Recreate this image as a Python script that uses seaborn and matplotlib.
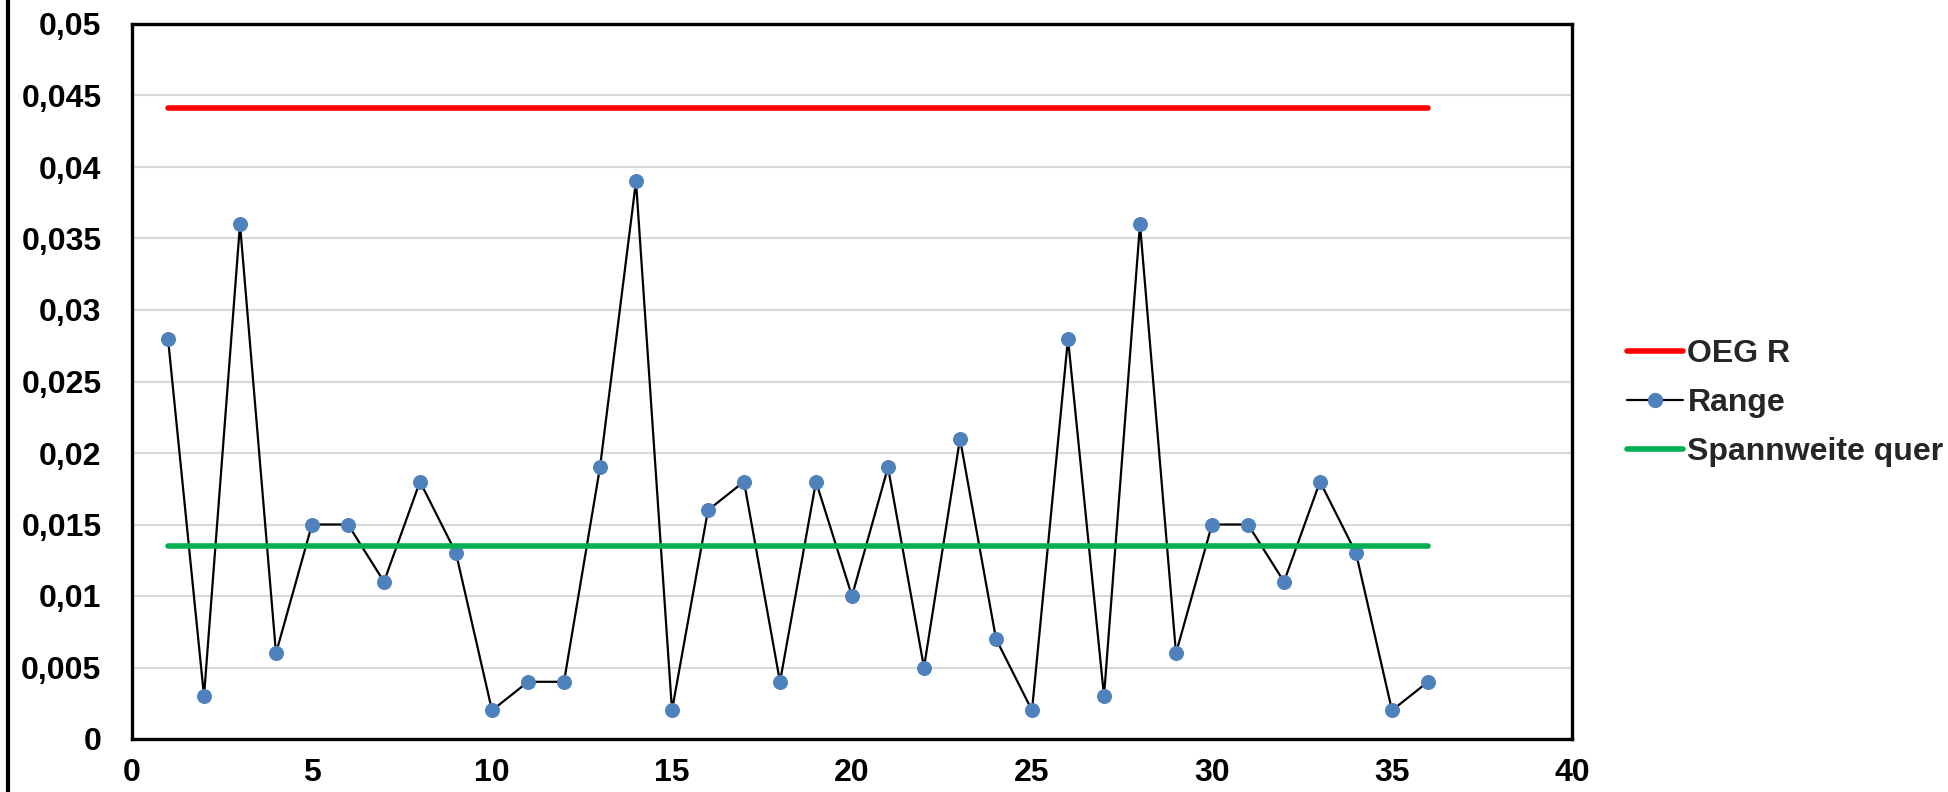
import matplotlib
matplotlib.use("Agg")
import matplotlib.pyplot as plt
import seaborn as sns
import pandas as pd
from matplotlib.ticker import FuncFormatter, MultipleLocator
from matplotlib.lines import Line2D

# ---- data ----
sample = list(range(1, 37))
range_values = [0.028, 0.003, 0.036, 0.006, 0.015, 0.015, 0.011, 0.018, 0.013, 0.002,
                0.004, 0.004, 0.019, 0.039, 0.002, 0.016, 0.018, 0.004, 0.018, 0.010,
                0.019, 0.005, 0.021, 0.007, 0.002, 0.028, 0.003, 0.036, 0.006, 0.015,
                0.015, 0.011, 0.018, 0.013, 0.002, 0.004]
oeg_r = 0.0441
spannweite_quer = 0.0135
labels = ["OEG R", "Range", "Spannweite quer"]

df = pd.DataFrame({"x": sample, "Range": range_values,
                   "OEG R": [oeg_r] * len(sample),
                   "Spannweite quer": [spannweite_quer] * len(sample)})

sns.set_theme(style="white")
plt.rcParams["font.family"] = ["Liberation Sans", "DejaVu Sans"]
plt.rcParams["font.weight"] = "bold"

FS = 23
fig = plt.figure(figsize=(19.49, 7.92), dpi=100)
ax = fig.add_axes([132 / 1949, 1 - 739 / 792, (1572 - 132) / 1949, (739 - 24) / 792])

sns.lineplot(data=df, x="x", y="OEG R", ax=ax, color="#FF0000", linewidth=4.0,
             solid_capstyle="round", label=labels[0], legend=False)
sns.lineplot(data=df, x="x", y="Range", ax=ax, color="black", linewidth=1.6,
             marker="o", markersize=10, markerfacecolor="#4F81BD",
             markeredgecolor="#4F81BD", label=labels[1], legend=False)
sns.lineplot(data=df, x="x", y="Spannweite quer", ax=ax, color="#00B050", linewidth=4.0,
             solid_capstyle="round", label=labels[2], legend=False)

ax.set_xlim(0, 40)
ax.set_ylim(0, 0.05)
ax.xaxis.set_major_locator(MultipleLocator(5))
ax.yaxis.set_major_locator(MultipleLocator(0.005))


def yfmt(v, pos):
    s = "%g" % round(v, 4)
    return s.replace(".", ",")


ax.yaxis.set_major_formatter(FuncFormatter(yfmt))
ax.set_xlabel("")
ax.set_ylabel("")
ax.grid(axis="y", color="#D9D9D9", linewidth=1.5)
ax.set_axisbelow(True)
for sp in ax.spines.values():
    sp.set_visible(True)
    sp.set_color("black")
    sp.set_linewidth(2.4)
ax.tick_params(axis="both", length=0, labelsize=FS, colors="black")
ax.tick_params(axis="y", pad=22)
ax.tick_params(axis="x", pad=14)
for t in ax.get_xticklabels() + ax.get_yticklabels():
    t.set_fontweight("bold")

handles = [Line2D([], [], color="#FF0000", linewidth=4.0, solid_capstyle="round"),
           Line2D([], [], color="black", linewidth=1.6, marker="o", markersize=10,
                  markerfacecolor="#4F81BD", markeredgecolor="#4F81BD"),
           Line2D([], [], color="#00B050", linewidth=4.0, solid_capstyle="round")]
leg = fig.legend(handles, labels, loc="center left", bbox_to_anchor=(1598 / 1949, 1 - 403 / 792),
                 frameon=False, handlelength=1.75, handletextpad=0.15, labelspacing=0.6,
                 prop={"size": FS, "weight": "bold"})

fig.add_artist(Line2D([8 / 1949, 8 / 1949], [0, 1], color="black", linewidth=3,
                      transform=fig.transFigure))

fig.savefig("out.png", dpi=100, facecolor="white")
